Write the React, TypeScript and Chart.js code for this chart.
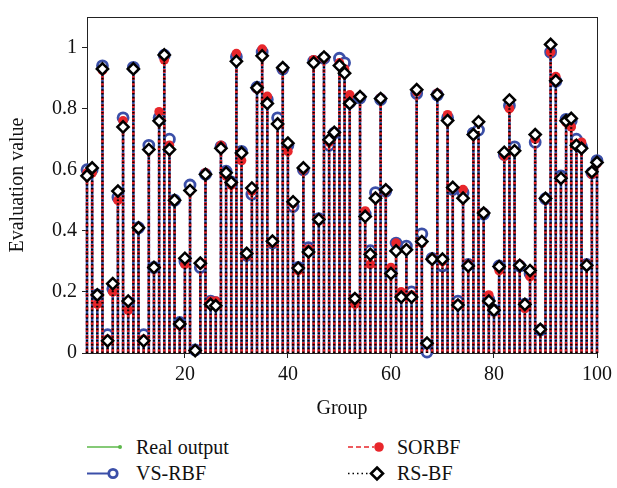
import React, { useEffect, useRef } from 'react';
import { Chart, registerables } from 'chart.js';
Chart.register(...registerables);

const FONT = "'Liberation Serif', 'Times New Roman', serif";

const groups: number[] = Array.from({ length: 100 }, (_, i) => i + 1);
const xTicks = [20, 40, 60, 80, 100];
const yTicks = [0, 0.2, 0.4, 0.6, 0.8, 1];

const realOutput = [
  0.59, 0.60, 0.18, 0.93, 0.05, 0.21, 0.51, 0.76, 0.15, 0.93,
  0.41, 0.05, 0.67, 0.28, 0.77, 0.97, 0.68, 0.50, 0.09, 0.30,
  0.54, 0.01, 0.29, 0.59, 0.16, 0.16, 0.67, 0.59, 0.56, 0.96,
  0.65, 0.32, 0.53, 0.87, 0.98, 0.83, 0.36, 0.76, 0.93, 0.68,
  0.49, 0.28, 0.60, 0.34, 0.95, 0.44, 0.97, 0.69, 0.72, 0.95,
  0.93, 0.83, 0.17, 0.84, 0.45, 0.31, 0.52, 0.83, 0.53, 0.27,
  0.35, 0.19, 0.34, 0.19, 0.86, 0.37, 0.02, 0.31, 0.85, 0.30,
  0.77, 0.54, 0.16, 0.52, 0.29, 0.72, 0.75, 0.46, 0.18, 0.14,
  0.28, 0.65, 0.81, 0.66, 0.29, 0.15, 0.26, 0.70, 0.08, 0.51,
  0.99, 0.90, 0.57, 0.76, 0.76, 0.69, 0.68, 0.29, 0.59, 0.62,
];

const vsRbf = [
  0.60, 0.60, 0.19, 0.94, 0.06, 0.21, 0.51, 0.77, 0.16, 0.935,
  0.41, 0.06, 0.68, 0.28, 0.77, 0.975, 0.70, 0.50, 0.10, 0.30,
  0.55, 0.01, 0.28, 0.585, 0.17, 0.165, 0.675, 0.595, 0.56, 0.97,
  0.66, 0.32, 0.52, 0.87, 0.985, 0.83, 0.36, 0.77, 0.93, 0.68,
  0.48, 0.28, 0.60, 0.345, 0.955, 0.44, 0.965, 0.68, 0.72, 0.965,
  0.95, 0.82, 0.175, 0.835, 0.455, 0.335, 0.525, 0.83, 0.53, 0.27,
  0.36, 0.19, 0.35, 0.20, 0.85, 0.39, 0.003, 0.31, 0.845, 0.285,
  0.77, 0.535, 0.17, 0.525, 0.29, 0.72, 0.73, 0.455, 0.175, 0.14,
  0.285, 0.65, 0.81, 0.675, 0.285, 0.16, 0.26, 0.69, 0.075, 0.505,
  0.985, 0.89, 0.58, 0.765, 0.76, 0.70, 0.675, 0.29, 0.59, 0.63,
];

const sorbf = [
  0.59, 0.59, 0.16, 0.925, 0.045, 0.20, 0.50, 0.76, 0.14, 0.93,
  0.41, 0.045, 0.665, 0.28, 0.79, 0.96, 0.68, 0.50, 0.09, 0.29,
  0.53, 0.01, 0.29, 0.59, 0.17, 0.17, 0.68, 0.58, 0.55, 0.98,
  0.63, 0.32, 0.53, 0.865, 0.995, 0.84, 0.36, 0.75, 0.93, 0.66,
  0.49, 0.27, 0.60, 0.34, 0.96, 0.44, 0.965, 0.69, 0.72, 0.95,
  0.93, 0.845, 0.16, 0.84, 0.465, 0.29, 0.51, 0.835, 0.53, 0.28,
  0.36, 0.20, 0.34, 0.19, 0.855, 0.36, 0.03, 0.31, 0.85, 0.30,
  0.78, 0.54, 0.16, 0.535, 0.29, 0.715, 0.755, 0.46, 0.19, 0.14,
  0.27, 0.645, 0.80, 0.66, 0.29, 0.145, 0.25, 0.70, 0.08, 0.505,
  0.985, 0.905, 0.57, 0.755, 0.74, 0.685, 0.69, 0.29, 0.585, 0.62,
];

const rsbf = [
  0.58, 0.606, 0.19, 0.93, 0.04, 0.227, 0.53, 0.74, 0.17, 0.93,
  0.41, 0.04, 0.666, 0.28, 0.76, 0.976, 0.666, 0.50, 0.095, 0.31,
  0.532, 0.008, 0.294, 0.585, 0.159, 0.155, 0.67, 0.59, 0.558, 0.955,
  0.655, 0.326, 0.54, 0.868, 0.973, 0.817, 0.366, 0.75, 0.934, 0.687,
  0.495, 0.278, 0.606, 0.331, 0.95, 0.437, 0.969, 0.698, 0.722, 0.941,
  0.916, 0.817, 0.178, 0.839, 0.447, 0.323, 0.507, 0.833, 0.534, 0.26,
  0.334, 0.183, 0.338, 0.183, 0.862, 0.365, 0.032, 0.307, 0.846, 0.307,
  0.761, 0.542, 0.157, 0.507, 0.285, 0.715, 0.757, 0.458, 0.17, 0.14,
  0.283, 0.657, 0.828, 0.662, 0.287, 0.159, 0.27, 0.715, 0.077, 0.506,
  1.01, 0.891, 0.572, 0.76, 0.768, 0.68, 0.67, 0.287, 0.593, 0.624,
];

const GREEN = '#5cb84a';
const BLUE = '#3b4fa8';
const RED = '#e8262b';
const BLACK = '#000000';

function stemData(vals: number[]) {
  const out: { x: number; y: number | null }[] = [];
  vals.forEach((v, i) => {
    out.push({ x: groups[i], y: 0 });
    out.push({ x: groups[i], y: v });
    out.push({ x: groups[i], y: null });
  });
  return out;
}

const tipOnly = (r: number) => (ctx: any) => (ctx.dataIndex % 3 === 1 ? r : 0);

const framePlugin = {
  id: 'frame',
  beforeDatasetsDraw(chart: any) {
    const { ctx, chartArea } = chart;
    ctx.save();
    ctx.strokeStyle = '#222';
    ctx.lineWidth = 1;
    ctx.strokeRect(
      Math.round(chartArea.left) + 0.5,
      Math.round(chartArea.top) + 0.5,
      Math.round(chartArea.right - chartArea.left),
      Math.round(chartArea.bottom - chartArea.top)
    );
    ctx.restore();
  },
};

function Legend() {
  const txt: React.CSSProperties = {
    position: 'absolute',
    fontFamily: FONT,
    fontSize: 20,
    lineHeight: '24px',
    height: 24,
    color: '#111',
    whiteSpace: 'nowrap',
  };
  return (
    <>
      <svg width={617} height={68} style={{ position: 'absolute', left: 0, top: 420 }}>
        <line x1={87} y1={27} x2={120} y2={27} stroke={GREEN} strokeWidth={1.5} />
        <circle cx={120} cy={27} r={2} fill={GREEN} />
        <line x1={87} y1={53.5} x2={112} y2={53.5} stroke={BLUE} strokeWidth={2} />
        <circle cx={113} cy={53.5} r={4.2} fill="white" stroke={BLUE} strokeWidth={2.8} />
        <line x1={348} y1={27} x2={374} y2={27} stroke={RED} strokeWidth={1.5} strokeDasharray="5 3" />
        <circle cx={379} cy={27} r={4.8} fill={RED} />
        <line x1={348} y1={53.5} x2={370} y2={53.5} stroke={BLACK} strokeWidth={1.5} strokeDasharray="1.5 3" />
        <polygon points="377,47.5 383,53.5 377,59.5 371,53.5" fill="white" stroke={BLACK} strokeWidth={2.6} />
      </svg>
      <div style={{ ...txt, left: 136, top: 435 }}>Real output</div>
      <div style={{ ...txt, left: 136, top: 461 }}>VS-RBF</div>
      <div style={{ ...txt, left: 397, top: 435 }}>SORBF</div>
      <div style={{ ...txt, left: 397, top: 461 }}>RS-BF</div>
    </>
  );
}

export default function App() {
  const ref = useRef<HTMLCanvasElement>(null);

  useEffect(() => {
    if (!ref.current) return;
    const tickFont = { family: FONT, size: 20 };
    const chart = new Chart(ref.current, {
      type: 'line',
      data: {
        datasets: [
          {
            label: 'Real output',
            data: stemData(realOutput),
            borderColor: GREEN,
            backgroundColor: GREEN,
            borderWidth: 1.5,
            pointRadius: tipOnly(1.8),
            pointBorderWidth: 0,
            pointBackgroundColor: GREEN,
            spanGaps: false,
            order: 4,
            clip: false as any,
          },
          {
            label: 'VS-RBF',
            data: stemData(vsRbf),
            borderColor: BLUE,
            backgroundColor: BLUE,
            borderWidth: 2.6,
            pointRadius: tipOnly(5),
            pointBorderWidth: 2.8,
            pointBorderColor: BLUE,
            pointBackgroundColor: 'white',
            spanGaps: false,
            order: 3,
            clip: false as any,
          },
          {
            label: 'SORBF',
            data: stemData(sorbf),
            borderColor: RED,
            backgroundColor: RED,
            borderWidth: 2.6,
            borderDash: [4, 3],
            pointRadius: tipOnly(4.8),
            pointBorderWidth: 0,
            pointBackgroundColor: RED,
            spanGaps: false,
            order: 2,
            clip: false as any,
          },
          {
            label: 'RS-BF',
            data: stemData(rsbf),
            borderColor: BLACK,
            backgroundColor: BLACK,
            borderWidth: 2.2,
            borderDash: [1.6, 2.2],
            pointStyle: 'rectRot',
            pointRadius: tipOnly(5.6),
            pointBorderWidth: 2.5,
            pointBorderColor: BLACK,
            pointBackgroundColor: 'white',
            spanGaps: false,
            order: 1,
            clip: false as any,
          },
        ],
      },
      options: {
        responsive: false,
        animation: false,
        events: [],
        layout: { padding: { left: 0, right: 13, top: 5, bottom: 0 } },
        plugins: { legend: { display: false }, tooltip: { enabled: false } },
        elements: { line: { tension: 0, fill: false } },
        scales: {
          x: {
            type: 'linear',
            min: 1,
            max: 100,
            afterBuildTicks: (axis: any) => {
              axis.ticks = xTicks.map((v) => ({ value: v }));
            },
            afterFit: (axis: any) => {
              axis.height = 67;
            },
            grid: { drawOnChartArea: false, drawTicks: true, tickLength: 5, color: '#222' },
            border: { display: true, color: '#222', width: 1 },
            ticks: { font: tickFont, color: '#111', padding: 5, maxRotation: 0, autoSkip: false },
            title: { display: true, text: 'Group', font: tickFont, color: '#111', padding: { top: 0, bottom: -1 } },
          },
          y: {
            type: 'linear',
            min: 0,
            max: 1.1,
            afterBuildTicks: (axis: any) => {
              axis.ticks = yTicks.map((v) => ({ value: v }));
            },
            afterFit: (axis: any) => {
              axis.width = 87;
            },
            grid: { drawOnChartArea: false, drawTicks: true, tickLength: 5, color: '#222' },
            border: { display: true, color: '#222', width: 1 },
            ticks: {
              font: tickFont,
              color: '#111',
              padding: 5,
              callback: (v: any) => String(Math.round(Number(v) * 10) / 10),
            },
            title: { display: true, text: 'Evaluation value', font: tickFont, color: '#111', padding: { top: 6, bottom: 0 } },
          },
        },
      },
      plugins: [framePlugin],
    } as any);
    return () => chart.destroy();
  }, []);

  return (
    <div style={{ position: 'fixed', left: 0, top: 0, width: 617, height: 488, background: 'white' }}>
      <canvas ref={ref} width={617} height={420} style={{ width: 617, height: 420, display: 'block' }} />
      <Legend />
    </div>
  );
}
